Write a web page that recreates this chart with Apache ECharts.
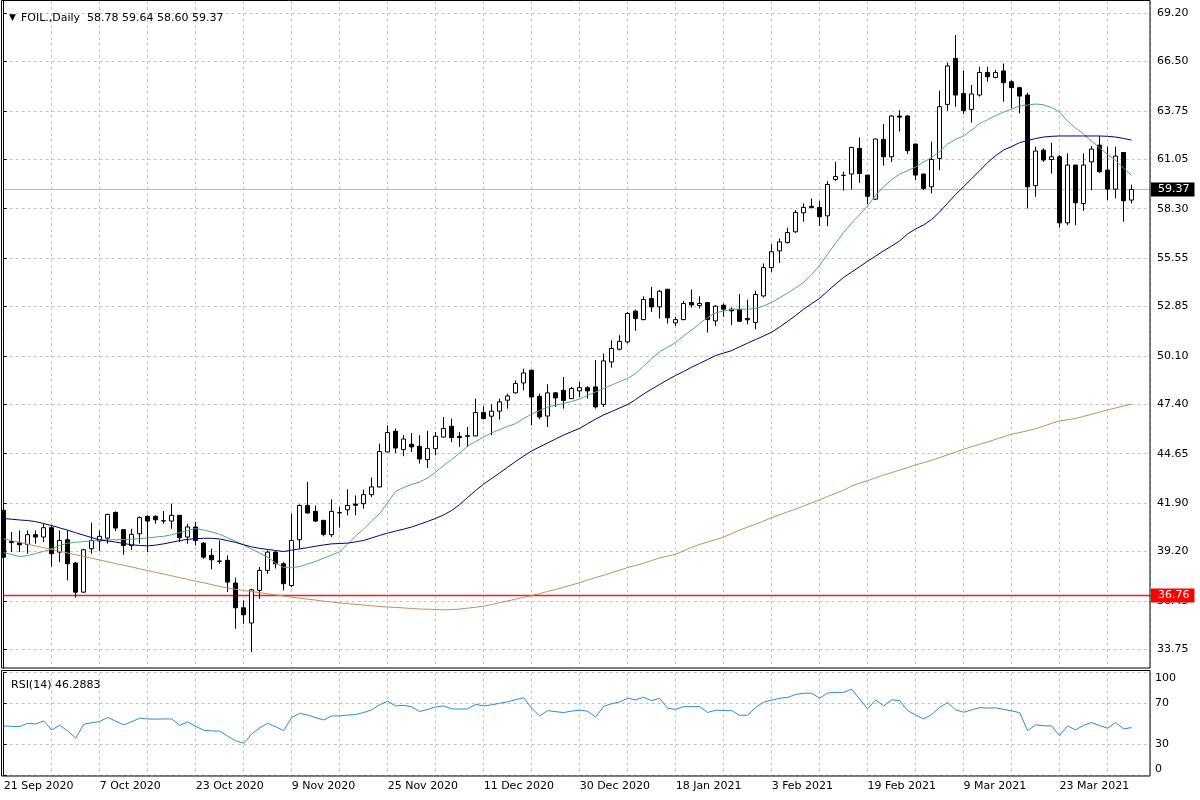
<!DOCTYPE html>
<html><head><meta charset="utf-8">
<script src="https://cdn.jsdelivr.net/npm/echarts@6/dist/echarts.min.js"></script>
<style>html,body{margin:0;padding:0;background:#fff}#c{width:1200px;height:800px}</style>
</head><body><div id="c"></div>
<script>
const dates = [
'2020.09.21','2020.09.22','2020.09.23','2020.09.24','2020.09.25','2020.09.28','2020.09.29','2020.09.30','2020.10.01','2020.10.02','2020.10.05','2020.10.06',
'2020.10.07','2020.10.08','2020.10.09','2020.10.12','2020.10.13','2020.10.14','2020.10.15','2020.10.16','2020.10.19','2020.10.20','2020.10.21','2020.10.22',
'2020.10.23','2020.10.26','2020.10.27','2020.10.28','2020.10.29','2020.10.30','2020.11.01','2020.11.02','2020.11.03','2020.11.04','2020.11.05','2020.11.06',
'2020.11.09','2020.11.10','2020.11.11','2020.11.12','2020.11.13','2020.11.16','2020.11.17','2020.11.18','2020.11.19','2020.11.20','2020.11.23','2020.11.24',
'2020.11.25','2020.11.26','2020.11.27','2020.11.30','2020.12.01','2020.12.02','2020.12.03','2020.12.04','2020.12.07','2020.12.08','2020.12.09','2020.12.10',
'2020.12.11','2020.12.14','2020.12.15','2020.12.16','2020.12.17','2020.12.18','2020.12.21','2020.12.22','2020.12.23','2020.12.24','2020.12.28','2020.12.29',
'2020.12.30','2020.12.31','2021.01.04','2021.01.05','2021.01.06','2021.01.07','2021.01.08','2021.01.11','2021.01.12','2021.01.13','2021.01.14','2021.01.15',
'2021.01.18','2021.01.19','2021.01.20','2021.01.21','2021.01.22','2021.01.25','2021.01.26','2021.01.27','2021.01.28','2021.01.29','2021.02.01','2021.02.02',
'2021.02.03','2021.02.04','2021.02.05','2021.02.08','2021.02.09','2021.02.10','2021.02.11','2021.02.12','2021.02.15','2021.02.16','2021.02.17','2021.02.18',
'2021.02.19','2021.02.22','2021.02.23','2021.02.24','2021.02.25','2021.02.26','2021.03.01','2021.03.02','2021.03.03','2021.03.04','2021.03.05','2021.03.08',
'2021.03.09','2021.03.10','2021.03.11','2021.03.12','2021.03.14','2021.03.15','2021.03.16','2021.03.17','2021.03.18','2021.03.19','2021.03.21','2021.03.22',
'2021.03.23','2021.03.24','2021.03.25','2021.03.26','2021.03.29','2021.03.30','2021.03.31','2021.04.01','2021.04.05','2021.04.06'];

const open = [
41.50,39.76,39.69,39.60,40.14,40.01,40.53,39.17,39.86,38.56,
36.94,39.36,39.79,39.95,41.38,40.42,39.54,40.19,41.16,41.16,
40.90,40.90,41.22,40.01,40.57,39.67,38.99,38.67,38.71,37.45,
36.07,35.22,37.04,38.15,39.17,38.52,37.31,39.86,41.77,41.44,
40.94,40.14,41.36,41.53,41.85,41.87,42.37,42.80,44.75,45.90,
44.88,45.18,45.06,44.32,44.93,45.58,46.18,45.62,45.62,45.64,
46.94,46.74,47.02,47.63,48.04,48.59,49.30,47.85,46.75,48.04,
48.18,47.72,48.15,48.33,48.37,47.40,49.76,50.47,50.88,52.59,
52.12,53.29,52.83,53.81,51.94,52.12,53.07,52.91,53.07,52.05,
52.92,52.70,52.68,52.18,51.96,53.44,55.02,55.95,56.42,57.01,
58.07,58.43,58.37,57.90,59.93,60.15,60.23,61.66,60.17,58.83,
62.16,61.19,63.46,63.46,61.90,60.23,59.52,61.10,64.11,66.67,
64.72,63.83,64.63,65.89,65.61,65.97,65.37,65.04,64.63,59.58,
61.56,61.04,61.19,57.51,60.73,58.59,60.91,61.84,60.45,59.39,
61.43,58.78];
const high = [
41.60,40.29,40.38,40.38,40.38,40.75,40.66,40.38,40.38,38.62,
39.35,40.81,40.38,41.31,41.44,40.45,40.47,41.16,41.22,41.22,
41.46,41.87,41.24,40.75,40.85,39.73,39.36,39.82,38.99,37.74,
36.48,37.13,38.34,39.27,39.21,38.62,41.31,41.83,43.08,41.77,
40.96,42.11,41.68,42.67,42.33,42.65,43.32,45.21,46.23,46.05,
45.68,45.81,45.68,45.92,45.86,46.70,46.61,45.86,46.14,47.72,
47.29,47.40,47.72,48.00,48.74,49.39,49.32,48.00,48.52,48.09,
48.93,48.37,48.65,48.41,49.86,50.23,50.97,51.25,52.55,52.68,
53.42,53.94,53.76,53.83,52.27,53.16,53.80,53.42,53.11,52.92,
53.02,52.79,53.54,53.24,53.72,55.25,56.32,56.64,57.25,58.22,
58.59,58.87,58.74,59.83,60.91,60.36,61.75,62.27,60.19,62.21,
63.01,63.51,63.79,63.51,61.92,60.25,62.03,64.87,66.43,67.97,
65.99,65.19,66.21,66.21,66.02,66.39,65.46,65.09,64.76,61.75,
61.66,61.97,61.28,61.38,60.75,61.38,61.79,62.34,61.75,61.75,
61.45,59.64];
const low = [
38.75,39.17,39.17,39.08,39.64,39.73,38.37,38.62,37.59,36.63,
36.90,39.08,39.23,39.64,40.34,39.02,39.30,39.64,39.17,40.75,
40.75,40.47,39.73,39.64,39.54,38.80,38.21,38.52,36.94,34.90,
35.18,33.60,36.57,37.96,38.26,37.04,37.22,39.36,41.31,40.85,
40.05,40.01,40.53,41.22,41.22,41.59,42.24,42.78,44.73,44.69,
44.51,44.75,44.10,43.86,44.56,45.56,45.30,45.03,45.03,45.62,
46.55,45.68,46.55,47.16,48.00,48.18,46.23,46.57,46.14,47.26,
47.16,47.70,47.81,47.72,47.16,47.26,49.45,50.41,50.79,51.49,
52.09,52.55,52.18,51.90,51.77,52.09,52.79,52.74,51.40,51.77,
52.27,51.81,51.99,51.86,51.58,53.35,54.78,55.28,56.36,56.96,
57.57,58.31,57.33,57.33,59.85,59.30,59.37,59.74,58.55,58.78,
60.69,60.91,62.59,61.34,59.89,59.33,59.15,60.45,63.76,63.98,
63.57,63.09,64.54,65.37,65.56,64.26,63.89,63.61,58.31,58.96,
60.91,60.26,57.25,57.38,57.38,58.18,59.33,60.30,58.78,58.87,
57.57,58.60];
const close = [
38.89,39.70,39.58,40.14,40.01,40.53,39.08,39.82,38.52,36.94,
39.30,39.82,40.05,41.27,40.51,39.54,40.16,41.09,40.90,40.97,
40.92,41.22,39.97,40.57,39.82,38.89,38.74,38.66,37.50,36.07,
35.68,37.07,38.15,39.17,38.52,37.41,39.82,41.77,41.35,40.90,
40.16,41.44,41.37,41.77,41.78,42.37,42.80,44.77,45.83,44.97,
45.47,45.03,44.36,44.95,45.62,46.05,45.55,45.55,45.66,46.94,
46.61,47.02,47.54,47.87,48.56,49.15,47.81,46.70,48.04,47.76,
47.62,48.28,48.33,48.15,47.26,49.82,50.51,50.91,52.46,52.18,
53.24,52.83,53.70,52.22,52.12,53.02,52.94,53.02,52.12,52.87,
52.70,52.61,52.03,52.11,53.52,55.02,55.90,56.45,56.97,58.09,
58.37,58.37,57.85,59.65,60.09,60.16,61.71,60.26,58.99,62.18,
61.19,63.46,63.40,61.53,60.17,59.43,61.04,63.98,66.25,64.63,
63.76,64.69,65.89,65.65,65.89,65.32,65.04,64.57,59.52,61.51,
61.01,61.19,57.51,60.73,58.63,60.73,61.62,60.36,59.39,61.23,
58.74,59.37];

const maFast = [
39.14,39.03,38.92,38.98,39.09,39.21,39.36,39.54,39.67,39.71,
39.76,39.80,39.85,39.86,39.86,39.87,39.88,39.92,39.96,40.01,
40.05,40.14,40.26,40.38,40.48,40.40,40.29,40.16,39.97,39.77,
39.56,39.33,39.12,38.89,38.56,38.31,38.30,38.37,38.51,38.65,
38.84,39.01,39.19,39.62,40.07,40.46,40.90,41.32,41.93,42.55,
42.77,42.94,43.08,43.30,43.63,44.00,44.33,44.69,45.07,45.33,
45.58,45.81,46.00,46.17,46.33,46.61,46.86,47.06,47.25,47.35,
47.45,47.56,47.70,47.90,48.09,48.28,48.48,48.67,48.84,49.12,
49.53,49.95,50.33,50.59,50.84,51.21,51.54,51.90,52.24,52.50,
52.60,52.69,52.71,52.70,52.74,52.88,53.08,53.34,53.60,53.88,
54.20,54.62,55.14,55.77,56.38,56.97,57.50,57.97,58.45,59.04,
59.52,59.91,60.23,60.42,60.62,60.90,61.16,61.48,61.90,62.16,
62.35,62.68,63.04,63.26,63.49,63.68,63.85,64.02,64.07,64.13,
64.09,63.93,63.68,63.18,62.79,62.46,62.07,61.68,61.32,60.98,
60.56,60.15];
const maSlow = [
41.04,41.00,40.96,40.93,40.87,40.76,40.65,40.52,40.39,40.25,
40.11,39.98,39.85,39.79,39.73,39.65,39.58,39.54,39.52,39.56,
39.63,39.72,39.81,39.88,39.92,39.94,39.94,39.90,39.81,39.71,
39.58,39.46,39.38,39.32,39.26,39.20,39.28,39.35,39.42,39.50,
39.57,39.63,39.65,39.67,39.74,39.82,39.96,40.10,40.23,40.34,
40.45,40.57,40.72,40.88,41.05,41.24,41.49,41.82,42.22,42.60,
42.96,43.27,43.58,43.90,44.22,44.52,44.81,45.03,45.25,45.47,
45.69,45.88,46.06,46.33,46.58,46.81,47.00,47.20,47.39,47.67,
47.98,48.25,48.51,48.77,49.01,49.23,49.47,49.68,49.90,50.12,
50.26,50.39,50.61,50.81,51.01,51.21,51.42,51.71,52.02,52.35,
52.70,53.01,53.30,53.71,54.10,54.47,54.77,55.07,55.37,55.66,
55.95,56.22,56.50,56.89,57.17,57.39,57.70,58.11,58.61,59.09,
59.53,59.97,60.41,60.87,61.25,61.57,61.76,61.98,62.09,62.21,
62.29,62.33,62.35,62.35,62.35,62.35,62.35,62.35,62.33,62.29,
62.21,62.12];
const maLong = [
39.91,39.81,39.71,39.61,39.51,39.42,39.32,39.22,39.12,39.02,
38.93,38.83,38.73,38.63,38.53,38.44,38.34,38.24,38.14,38.04,
37.95,37.85,37.75,37.65,37.55,37.46,37.36,37.26,37.17,37.10,
37.03,36.97,36.91,36.85,36.79,36.72,36.66,36.60,36.55,36.50,
36.44,36.39,36.34,36.30,36.26,36.22,36.18,36.14,36.11,36.09,
36.06,36.03,36.00,35.99,35.97,35.95,35.97,36.00,36.05,36.10,
36.16,36.25,36.35,36.45,36.55,36.65,36.75,36.86,36.98,37.09,
37.21,37.34,37.47,37.62,37.75,37.88,38.02,38.16,38.31,38.43,
38.55,38.70,38.85,38.95,39.05,39.24,39.44,39.60,39.73,39.87,
40.01,40.20,40.40,40.56,40.72,40.90,41.09,41.25,41.41,41.57,
41.74,41.91,42.08,42.27,42.44,42.62,42.85,43.01,43.15,43.31,
43.47,43.60,43.74,43.88,44.03,44.15,44.28,44.43,44.59,44.74,
44.90,45.04,45.17,45.31,45.45,45.59,45.74,45.83,45.93,46.05,
46.19,46.34,46.48,46.54,46.61,46.73,46.85,46.97,47.09,47.20,
47.31,47.42];
const rsi = [
47.9,47.5,47.2,50.5,49.8,52.8,44.0,48.5,43.0,35.9,
49.5,51.0,52.1,56.3,52.5,48.9,52.0,55.4,54.7,54.5,
54.7,54.7,48.5,51.8,47.5,43.7,43.0,42.7,38.0,33.3,
31.0,40.0,46.0,50.5,47.0,43.3,56.0,60.2,58.5,56.0,
53.7,57.6,57.6,58.5,59.0,61.0,63.5,68.5,72.0,67.4,
68.0,66.5,61.9,64.0,66.4,67.4,64.5,64.3,64.5,69.0,
67.4,68.5,70.0,71.3,73.5,75.5,65.1,57.6,62.8,61.8,
60.9,62.3,63.3,62.2,56.5,67.0,69.5,71.2,74.9,73.3,
75.9,72.5,74.9,65.1,64.1,66.7,66.7,66.7,61.0,63.2,
63.0,62.8,58.3,58.3,66.0,71.0,73.0,74.9,75.7,78.5,
79.8,79.8,74.9,80.0,80.6,80.7,83.7,74.0,64.5,73.3,
67.4,73.3,72.6,62.8,58.6,54.7,59.0,66.0,70.7,63.5,
61.2,63.5,65.8,65.3,65.5,64.0,62.5,60.9,43.3,48.9,
48.0,47.9,38.5,47.9,44.0,48.5,51.1,48.2,45.6,51.1,
45.0,46.29];

const priceTicks = [33.75,36.45,39.20,41.90,44.65,47.40,50.10,52.85,55.55,58.30,61.05,63.75,66.50,69.20];
const rsiTicks = [0,30,70,100];
const lastPrice = 59.37;
const levelPrice = 36.76;
const titleText = 'FOIL.,Daily  58.78 59.64 58.60 59.37';
const rsiText = 'RSI(14) 46.2883';
const months = ['Jan','Feb','Mar','Apr','May','Jun','Jul','Aug','Sep','Oct','Nov','Dec'];

const FONT = 'DejaVu Sans';
const GRIDC = '#c4c4c4';
const X0 = 3.7, XW = 1146.3, XMAX = 143.3;

function dateLabel(v) {
  if (Math.abs(v - Math.round(v)) > 1e-6) return '';
  v = Math.round(v);
  if (v % 12 !== 0 || v >= dates.length) return '';
  const p = dates[v].split('.');
  return (+p[2]) + ' ' + months[+p[1] - 1] + ' ' + p[0];
}

const chart = echarts.init(document.getElementById('c'), null, {renderer: 'canvas'});
const xBase = {
  type: 'value', min: 0, max: XMAX, interval: 6,
  axisLine: {show: false}, axisTick: {show: false},
  splitLine: {show: true, lineStyle: {color: GRIDC, type: [3, 3], width: 1}}
};
function levelSeries(value, lineColor, boxColor, w) {
  return {
    type: 'line', xAxisIndex: 0, yAxisIndex: 0, showSymbol: false, symbol: 'none', z: 4, silent: true,
    data: [[0, value], [XMAX, value]],
    lineStyle: {color: lineColor, width: w, type: 'solid'},
    itemStyle: {color: lineColor},
    endLabel: {show: true, distance: 1, formatter: value.toFixed(2), color: '#fff',
      backgroundColor: boxColor, padding: [2, 5, 1, 7], fontSize: 11, fontFamily: FONT}
  };
}
chart.setOption({
  animation: false,
  backgroundColor: '#fff',
  title: [
    {left: 4, top: 4, text: '{t|▼} {s|' + titleText + '}',
     textStyle: {rich: {t: {fontSize: 9, fontFamily: FONT, color: '#000', fontWeight: 'normal'},
                        s: {fontSize: 11, fontFamily: FONT, color: '#000', fontWeight: 'normal'}}}},
    {left: 6, top: 675, text: rsiText,
     textStyle: {fontSize: 11, fontFamily: FONT, color: '#000', fontWeight: 'normal'}}
  ],
  grid: [
    {left: X0, top: 1, width: XW, height: 667},
    {left: X0, top: 672.5, width: XW, height: 102.5}
  ],
  xAxis: [
    Object.assign({}, xBase, {gridIndex: 0, axisLabel: {show: false}}),
    Object.assign({}, xBase, {gridIndex: 1, axisLabel: {show: true, formatter: dateLabel, align: 'left',
      color: '#000', fontSize: 11, fontFamily: FONT, margin: 6}})
  ],
  yAxis: [
    {type: 'value', gridIndex: 0, position: 'right', min: 32.715, max: 69.868, scale: true,
     axisLine: {show: true, lineStyle: {color: '#000'}},
     axisTick: {show: true, length: 3, customValues: priceTicks, lineStyle: {color: '#000'}},
     axisLabel: {customValues: priceTicks, formatter: v => v.toFixed(2), color: '#000', fontSize: 11, fontFamily: FONT, margin: 7},
     splitLine: {show: true, lineStyle: {color: GRIDC, type: [3, 3], width: 1}}},
    {type: 'value', gridIndex: 1, position: 'right', min: 0, max: 100,
     axisLine: {show: true, lineStyle: {color: '#000'}},
     axisTick: {show: true, length: 3, customValues: rsiTicks, lineStyle: {color: '#000'}},
     axisLabel: {customValues: rsiTicks, color: '#000', fontSize: 11, fontFamily: FONT, margin: 5,
       verticalAlignMinLabel: 'bottom', verticalAlignMaxLabel: 'top'},
     splitLine: {show: true, lineStyle: {color: GRIDC, type: [3, 3], width: 1}}}
  ],
  series: [
    levelSeries(lastPrice, '#b8b8b8', '#000000', 1),
    levelSeries(levelPrice, '#ff1a1a', '#ff0000', 1.5),
    {type: 'candlestick', xAxisIndex: 0, yAxisIndex: 0, barWidth: 4.5, clip: true, z: 5,
     data: open.map((o, i) => [i, o, close[i], low[i], high[i]]),
     itemStyle: {color: '#ffffff', color0: '#000000', borderColor: '#000000', borderColor0: '#000000', borderWidth: 1}},
    {type: 'line', xAxisIndex: 0, yAxisIndex: 0, showSymbol: false, symbol: 'none',
     data: maFast.map((v, i) => [i, v]), lineStyle: {color: '#4fa88c', width: 1}, z: 6},
    {type: 'line', xAxisIndex: 0, yAxisIndex: 0, showSymbol: false, symbol: 'none',
     data: maSlow.map((v, i) => [i, v]), lineStyle: {color: '#00007a', width: 1}, z: 6},
    {type: 'line', xAxisIndex: 0, yAxisIndex: 0, showSymbol: false, symbol: 'none',
     data: maLong.map((v, i) => [i, v]), lineStyle: {color: '#c0915c', width: 1}, z: 6},
    {type: 'line', xAxisIndex: 1, yAxisIndex: 1, showSymbol: false, symbol: 'none',
     data: rsi.map((v, i) => [i, v]), lineStyle: {color: '#2d8bd6', width: 1}, z: 6}
  ],
  graphic: [
    {type: 'rect', silent: true, z: 100, shape: {x: 1.5, y: 0.5, width: 1148.5, height: 667.5},
     style: {fill: 'none', stroke: '#000', lineWidth: 1}},
    {type: 'rect', silent: true, z: 100, shape: {x: 1.5, y: 670.5, width: 1148.5, height: 105.5},
     style: {fill: 'none', stroke: '#000', lineWidth: 1}}
  ]
});
</script>
</body></html>
